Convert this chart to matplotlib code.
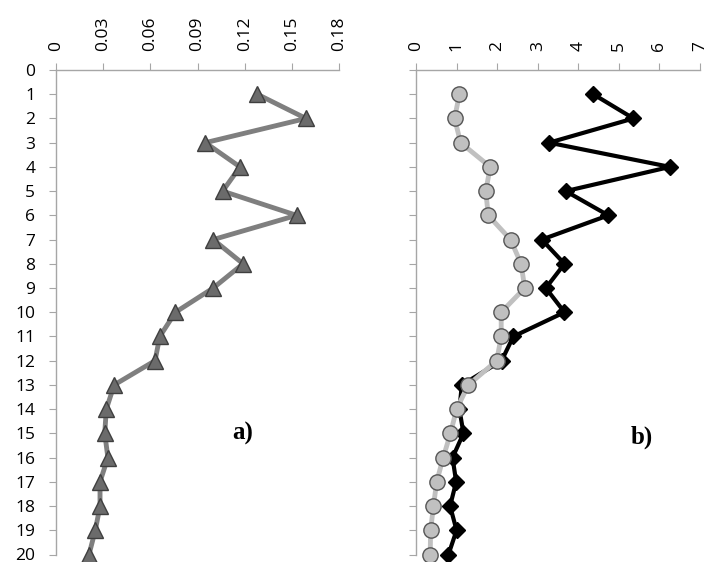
import matplotlib
matplotlib.use('Agg')
import matplotlib.pyplot as plt

depth = list(range(1, 21))

# panel a)
tri_vals = [0.128, 0.159, 0.095, 0.117, 0.106, 0.153, 0.100, 0.119, 0.100, 0.076,
            0.066, 0.063, 0.037, 0.032, 0.031, 0.033, 0.028, 0.028, 0.025, 0.021]

# panel b)
circ_vals = [1.07, 0.95, 1.10, 1.83, 1.72, 1.78, 2.33, 2.59, 2.68, 2.10,
             2.10, 1.99, 1.29, 1.00, 0.85, 0.67, 0.51, 0.43, 0.36, 0.35]
diam_vals = [4.37, 5.36, 3.28, 6.26, 3.69, 4.74, 3.10, 3.66, 3.20, 3.66,
             2.40, 2.11, 1.13, 1.07, 1.17, 0.90, 0.99, 0.84, 1.00, 0.80]

xticks_a = [0, 0.03, 0.06, 0.09, 0.12, 0.15, 0.18]
xticks_b = [0, 1, 2, 3, 4, 5, 6, 7]
yticks = list(range(0, 21))

plt.rcParams['font.family'] = ['Open Sans', 'DejaVu Sans']
plt.rcParams['font.size'] = 12

fig = plt.figure(figsize=(7.05, 5.62), dpi=100)
top, bot = 70.0, 554.5
ax1 = fig.add_axes([56 / 705, 1 - bot / 562, 283 / 705, (bot - top) / 562])
ax2 = fig.add_axes([416 / 705, 1 - bot / 562, 284 / 705, (bot - top) / 562])

spine_col = '#a6a6a6'


def style(ax, xticks, xlim, labels_y):
    ax.set_ylim(20, 0)
    ax.set_xlim(*xlim)
    ax.set_yticks(yticks)
    ax.set_xticks(xticks)
    ax.set_xticklabels([('%g' % v) for v in xticks])
    ax.xaxis.tick_top()
    for s in ['right', 'bottom']:
        ax.spines[s].set_visible(False)
    for s in ['top', 'left']:
        ax.spines[s].set_color(spine_col)
        ax.spines[s].set_linewidth(1.0)
    ax.tick_params(axis='x', direction='out', length=5, color=spine_col,
                   labelrotation=90, pad=9, labelsize=12.5)
    ax.tick_params(axis='y', direction='out', length=5, color=spine_col,
                   pad=10, labelsize=12.5, labelleft=labels_y)


style(ax1, xticks_a, (0, 0.18), True)
style(ax2, xticks_b, (0, 7), False)

ax1.plot(tri_vals, depth, color='#7f7f7f', lw=3.5, marker='^', ms=12,
         mfc='#6b6b6b', mec='#3f3f3f', mew=1.0, clip_on=False)

ax2.plot(diam_vals, depth, color='black', lw=3, marker='D', ms=8,
         mfc='black', mec='black', clip_on=False)
ax2.plot(circ_vals, depth, color='#c0c0c0', lw=3.5, marker='o', ms=11,
         mfc='#c0c0c0', mec='#555555', mew=1.0, clip_on=False)

fig.text(243 / 705, 1 - 433 / 562, 'a)', fontsize=18, fontweight='bold',
         family='Liberation Serif', ha='center', va='center')
fig.text(642 / 705, 1 - 437 / 562, 'b)', fontsize=18, fontweight='bold',
         family='Liberation Serif', ha='center', va='center')

fig.savefig('out.png', dpi=100)
